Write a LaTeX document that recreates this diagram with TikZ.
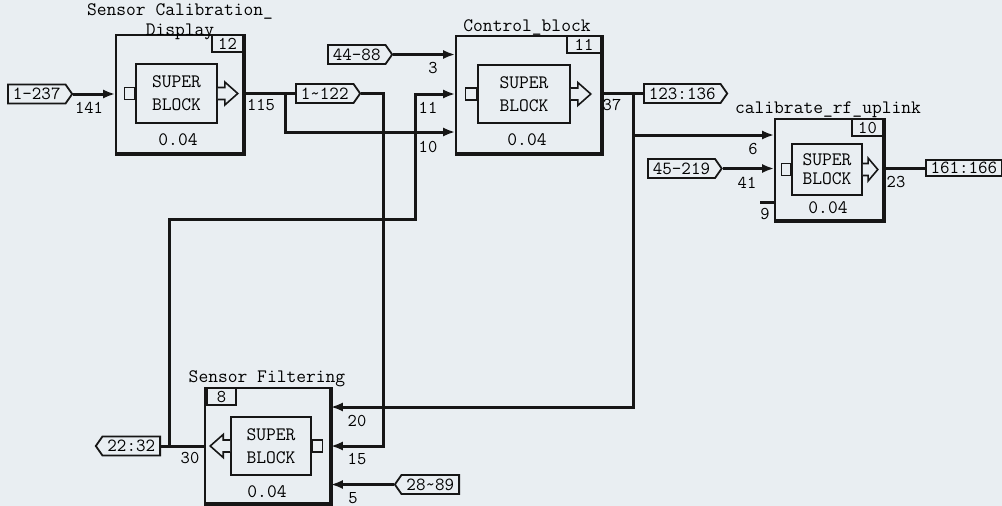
\documentclass[tikz,border=0pt]{standalone}
\usepackage{fontspec}
\usetikzlibrary{arrows.meta,shapes.symbols}
\definecolor{bg}{RGB}{233,238,242}
\definecolor{ink}{RGB}{22,22,22}
\begin{document}
\begin{tikzpicture}[x=1pt,y=-1pt,
  font=\ttfamily\fontsize{19}{19}\selectfont,
  wire/.style={line width=3pt, draw=ink},
  arr/.style={-{Latex[length=12pt,width=9pt]}},
  outerblk/.style={draw=ink, line width=1.6pt, rectangle, inner sep=0pt},
  innerblk/.style={draw=ink, line width=1.6pt, rectangle, inner sep=0pt, align=center, font=\ttfamily\fontsize{19}{23}\selectfont},
  numbox/.style={draw=ink, line width=1.6pt, rectangle, inner sep=0pt, minimum height=17pt, font=\ttfamily\fontsize{18}{18}\selectfont},
  portsq/.style={draw=ink, line width=1.6pt, rectangle, inner sep=0pt, minimum width=10pt, minimum height=12pt},
  tagE/.style={draw=ink, line width=1.8pt, signal, signal to=east, signal pointer angle=110, inner xsep=5pt, inner ysep=0pt, minimum height=19pt, font=\ttfamily\fontsize{18.5}{18.5}\selectfont},
  tagW/.style={tagE, signal to=west},
  lbl/.style={font=\ttfamily\fontsize{18}{18}\selectfont, inner sep=0pt, anchor=base},
  titletxt/.style={inner sep=0pt, anchor=base},
  harrowR/.pic={\draw[line width=1.6pt, draw=ink, fill=bg, line join=miter] (0,-6) -- (7,-6) -- (7,-11.5) -- (20,0) -- (7,11.5) -- (7,6) -- (0,6);}
]
\fill[bg] (0,0) rectangle (1002,506);
\useasboundingbox (0,0) rectangle (1002,506);

% ---------- Block: Sensor Calibration_Display ----------
\node[outerblk, minimum width=127pt, minimum height=118pt] (b1) at (179.5,94) {};
\draw[line width=3.5pt, draw=ink] (b1.north east) -- (b1.south east) -- (b1.south west);
\node[innerblk, minimum width=81pt, minimum height=59pt] (b1i) at (176.5,93.5) {SUPER\\BLOCK};
\node[numbox, minimum width=31pt, anchor=north east] (b1n) at (b1.north east) {12};
\node[portsq, anchor=east] (b1p) at (b1i.west) {};
\pic at (b1i.east) {harrowR};
\node[titletxt] (b1t) at (180,16) {Sensor Calibration\_};
\node[titletxt] (b1t2) at (180,35) {Display};
\node[titletxt] (b1v) at (178,145) {0.04};

% ---------- Block: Control_block ----------
\node[outerblk, minimum width=145pt, minimum height=117pt] (ctrl) at (528.5,94.5) {};
\draw[line width=3.5pt, draw=ink] (ctrl.north east) -- (ctrl.south east) -- (ctrl.south west);
\node[innerblk, minimum width=92pt, minimum height=58pt] (ctrli) at (524,94) {SUPER\\BLOCK};
\node[numbox, minimum width=34pt, anchor=north east] (ctrln) at (ctrl.north east) {11};
\node[portsq, anchor=east, minimum width=11pt] (ctrlp) at (ctrli.west) {};
\pic at (ctrli.east) {harrowR};
\node[titletxt] (ctrlt) at (527,31) {Control\_block};
\node[titletxt] (ctrlv) at (527,145) {0.04};

% ---------- Block: calibrate_rf_uplink ----------
\node[outerblk, minimum width=108pt, minimum height=101pt] (cal) at (829,169.5) {};
\draw[line width=3.5pt, draw=ink] (cal.north east) -- (cal.south east) -- (cal.south west);
\node[innerblk, minimum width=70pt, minimum height=51pt, font=\ttfamily\fontsize{19}{19}\selectfont] (cali) at (827,169.5) {SUPER\\BLOCK};
\node[numbox, minimum width=31pt, anchor=north east] (caln) at (cal.north east) {10};
\node[portsq, anchor=east, minimum width=9pt] (calp) at (cali.west) {};
\pic[xscale=0.75] at (cali.east) {harrowR};
\node[titletxt] (calt) at (828,113) {calibrate\_rf\_uplink};
\node[titletxt] (calv) at (828,213) {0.04};

% ---------- Block: Sensor Filtering ----------
\node[outerblk, minimum width=125pt, minimum height=115pt] (f) at (267.5,445.5) {};
\draw[line width=3.5pt, draw=ink] (f.north east) -- (f.south east) -- (f.south west);
\node[innerblk, minimum width=80pt, minimum height=58pt] (fi) at (271,446) {SUPER\\BLOCK};
\node[numbox, minimum width=29pt, anchor=north west, xshift=2pt] (fn) at (f.north west) {8};
\node[portsq, anchor=west] (fp) at (fi.east) {};
\pic[xscale=-1] at (fi.west) {harrowR};
\node[titletxt] (ft) at (267,382) {Sensor Filtering};
\node[titletxt] (fv) at (267,497) {0.04};

% ---------- Tags ----------
\node[tagE, anchor=west] (t1) at (7,94) {1-237};
\node[tagE, anchor=west] (t44) at (327,54.5) {44-88};
\node[tagE, anchor=west] (t1122) at (295,93.5) {1\char"7E 122};
\node[tagE, anchor=west] (t123) at (643,93.5) {123:136};
\node[tagE, anchor=west] (t45) at (647,168.5) {45-219};
\node[draw=ink, line width=1.8pt, rectangle, inner sep=0pt, minimum width=76pt, minimum height=16pt, anchor=west, font=\ttfamily\fontsize{18.5}{18.5}\selectfont] (t161) at (925,168) {161:166};
\node[tagW, anchor=east] (t22) at (161,446) {22:32};
\node[tagW, anchor=east] (t28) at (460,484.5) {28\char"7E 89};

% ---------- Wires ----------
\draw[wire,arr] (t1.east) -- (t1.east -| b1.west);
\draw[wire] (b1.east |- t1122.west) -- (t1122.west);
\coordinate (j115) at (285,93.5);
\coordinate (k10) at (285,132);
\draw[wire,arr] (j115) -- (k10) -- (k10 -| ctrl.west);
\coordinate (k15) at (383,446);
\draw[wire,arr] (t1122.east) -| (k15) -- (k15 -| f.east);
\draw[wire,arr] (t44.east) -- (t44.east -| ctrl.west);
\draw[wire] (f.west |- t22.east) -- (t22.east);
\coordinate (j30) at (169,446);
\coordinate (k11a) at (415,219);
\coordinate (k11) at (415,94);
\draw[wire,arr] (j30) |- (k11a) -- (k11) -- (k11 -| ctrl.west);
\draw[wire] (ctrl.east |- t123.west) -- (t123.west);
\coordinate (j37) at (633,93.5);
\coordinate (k20) at (633,407);
\coordinate (k6) at (633,135);
\draw[wire,arr] (j37) -- (k20) -- (k20 -| f.east);
\draw[wire,arr] (k6) -- (k6 -| cal.west);
\draw[wire,arr] (t45.east) -- (t45.east -| cal.west);
\coordinate (k9) at (760,202);
\draw[wire] (k9) -- (k9 -| cal.west);
\draw[wire] (cal.east |- t161.west) -- (t161.west);
\draw[wire,arr] (t28.west) -- (t28.west -| f.east);

% ---------- Port labels ----------
\node[lbl] (l141) at (89,113) {141};
\node[lbl] (l115) at (261,110) {115};
\node[lbl] (l3) at (433,73) {3};
\node[lbl] (l11) at (428,113) {11};
\node[lbl] (l10) at (428,152) {10};
\node[lbl] (l37) at (612,110) {37};
\node[lbl] (l6) at (753,154) {6};
\node[lbl] (l41) at (747,188) {41};
\node[lbl] (l9) at (765,219) {9};
\node[lbl] (l23) at (896,187) {23};
\node[lbl] (l20) at (357,426) {20};
\node[lbl] (l15) at (357,464) {15};
\node[lbl] (l5) at (353,503) {5};
\node[lbl] (l30) at (190,463) {30};
\end{tikzpicture}
\end{document}
